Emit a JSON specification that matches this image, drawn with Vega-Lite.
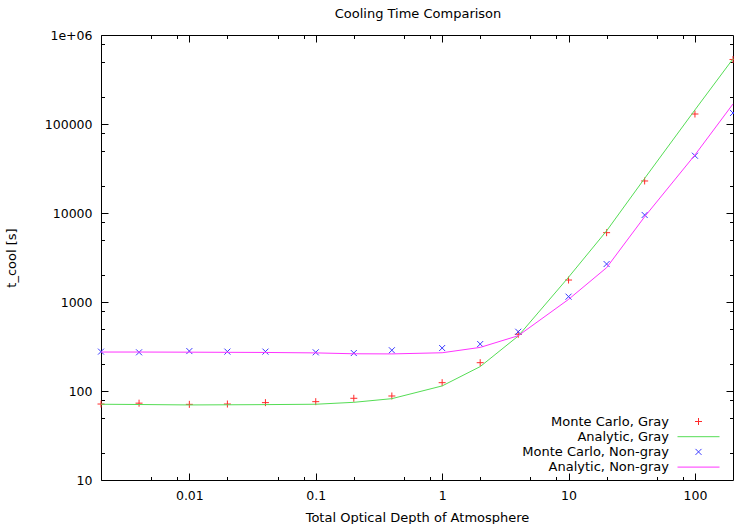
{
  "$schema": "https://vega.github.io/schema/vega-lite/v6.json",
  "width": 632,
  "height": 445,
  "autosize": {"type": "none"},
  "padding": {"left": 101, "top": 35, "right": 1, "bottom": 44},
  "title": {"text": "Cooling Time Comparison", "font": "DejaVu Sans", "fontSize": 13, "fontWeight": "normal", "color": "#000", "offset": 8, "dx": 1},
  "config": {
    "view": {"stroke": "#000", "strokeWidth": 1},
    "font": "DejaVu Sans",
    "axis": {"grid": false, "domain": false, "labelFont": "DejaVu Sans", "labelFontSize": 12.5, "labelColor": "#000", "titleFont": "DejaVu Sans", "titleFontSize": 13, "titleFontWeight": "normal", "titleColor": "#000", "tickColor": "#000", "tickWidth": 1, "labelOverlap": false, "labelFlush": false}
  },
  "data": {"values": [
    {"tau": 0.002, "t": 71.4, "series": "Monte Carlo, Gray"},
    {"tau": 0.004, "t": 73, "series": "Monte Carlo, Gray"},
    {"tau": 0.01, "t": 70.8, "series": "Monte Carlo, Gray"},
    {"tau": 0.02, "t": 71.4, "series": "Monte Carlo, Gray"},
    {"tau": 0.04, "t": 74, "series": "Monte Carlo, Gray"},
    {"tau": 0.1, "t": 75.9, "series": "Monte Carlo, Gray"},
    {"tau": 0.2, "t": 82.8, "series": "Monte Carlo, Gray"},
    {"tau": 0.4, "t": 87.9, "series": "Monte Carlo, Gray"},
    {"tau": 1, "t": 124, "series": "Monte Carlo, Gray"},
    {"tau": 2, "t": 208, "series": "Monte Carlo, Gray"},
    {"tau": 4, "t": 434, "series": "Monte Carlo, Gray"},
    {"tau": 10, "t": 1766, "series": "Monte Carlo, Gray"},
    {"tau": 20, "t": 6010, "series": "Monte Carlo, Gray"},
    {"tau": 40, "t": 22900, "series": "Monte Carlo, Gray"},
    {"tau": 100, "t": 129500, "series": "Monte Carlo, Gray"},
    {"tau": 200, "t": 530000, "series": "Monte Carlo, Gray"},
    {"tau": 0.002, "t": 71, "series": "Analytic, Gray"},
    {"tau": 0.004, "t": 70.5, "series": "Analytic, Gray"},
    {"tau": 0.01, "t": 69.7, "series": "Analytic, Gray"},
    {"tau": 0.02, "t": 70, "series": "Analytic, Gray"},
    {"tau": 0.04, "t": 70.3, "series": "Analytic, Gray"},
    {"tau": 0.1, "t": 71, "series": "Analytic, Gray"},
    {"tau": 0.2, "t": 74.6, "series": "Analytic, Gray"},
    {"tau": 0.4, "t": 82, "series": "Analytic, Gray"},
    {"tau": 1, "t": 114, "series": "Analytic, Gray"},
    {"tau": 2, "t": 188, "series": "Analytic, Gray"},
    {"tau": 4, "t": 415, "series": "Analytic, Gray"},
    {"tau": 10, "t": 1900, "series": "Analytic, Gray"},
    {"tau": 20, "t": 6300, "series": "Analytic, Gray"},
    {"tau": 40, "t": 24500, "series": "Analytic, Gray"},
    {"tau": 100, "t": 144000, "series": "Analytic, Gray"},
    {"tau": 200, "t": 540000, "series": "Analytic, Gray"},
    {"tau": 0.002, "t": 277, "series": "Monte Carlo, Non-gray"},
    {"tau": 0.004, "t": 272, "series": "Monte Carlo, Non-gray"},
    {"tau": 0.01, "t": 281, "series": "Monte Carlo, Non-gray"},
    {"tau": 0.02, "t": 277, "series": "Monte Carlo, Non-gray"},
    {"tau": 0.04, "t": 277, "series": "Monte Carlo, Non-gray"},
    {"tau": 0.1, "t": 272, "series": "Monte Carlo, Non-gray"},
    {"tau": 0.2, "t": 267, "series": "Monte Carlo, Non-gray"},
    {"tau": 0.4, "t": 287, "series": "Monte Carlo, Non-gray"},
    {"tau": 1, "t": 304, "series": "Monte Carlo, Non-gray"},
    {"tau": 2, "t": 337, "series": "Monte Carlo, Non-gray"},
    {"tau": 4, "t": 463, "series": "Monte Carlo, Non-gray"},
    {"tau": 10, "t": 1148, "series": "Monte Carlo, Non-gray"},
    {"tau": 20, "t": 2670, "series": "Monte Carlo, Non-gray"},
    {"tau": 40, "t": 9500, "series": "Monte Carlo, Non-gray"},
    {"tau": 100, "t": 44000, "series": "Monte Carlo, Non-gray"},
    {"tau": 200, "t": 133000, "series": "Monte Carlo, Non-gray"},
    {"tau": 0.002, "t": 274, "series": "Analytic, Non-gray"},
    {"tau": 0.004, "t": 274, "series": "Analytic, Non-gray"},
    {"tau": 0.01, "t": 273, "series": "Analytic, Non-gray"},
    {"tau": 0.02, "t": 272, "series": "Analytic, Non-gray"},
    {"tau": 0.04, "t": 271, "series": "Analytic, Non-gray"},
    {"tau": 0.1, "t": 268, "series": "Analytic, Non-gray"},
    {"tau": 0.2, "t": 262, "series": "Analytic, Non-gray"},
    {"tau": 0.4, "t": 261, "series": "Analytic, Non-gray"},
    {"tau": 1, "t": 269, "series": "Analytic, Non-gray"},
    {"tau": 2, "t": 309, "series": "Analytic, Non-gray"},
    {"tau": 4, "t": 418, "series": "Analytic, Non-gray"},
    {"tau": 10, "t": 1070, "series": "Analytic, Non-gray"},
    {"tau": 20, "t": 2430, "series": "Analytic, Non-gray"},
    {"tau": 40, "t": 9080, "series": "Analytic, Non-gray"},
    {"tau": 100, "t": 44900, "series": "Analytic, Non-gray"},
    {"tau": 200, "t": 168000, "series": "Analytic, Non-gray"}
  ]},
  "layer": [
    {
      "transform": [{"filter": {"field": "series", "oneOf": ["Monte Carlo, Gray", "Monte Carlo, Non-gray"]}}],
      "mark": {"type": "point", "filled": false, "strokeWidth": 1, "size": 100, "opacity": 1},
      "encoding": {
        "x": {"field": "tau", "type": "quantitative", "scale": {"type": "log", "domain": [0.002, 200], "nice": false},
          "axis": {"orient": "top", "title": null, "labels": false, "values": [0.005, 0.008, 0.01, 0.02, 0.05, 0.08, 0.1, 0.2, 0.5, 0.8, 1, 2, 5, 8, 10, 20, 50, 80, 100],
            "tickSize": {"condition": {"test": "abs(log(datum.value)/LN10 - round(log(datum.value)/LN10)) < 0.001", "value": -7}, "value": -3.5}}},
        "y": {"field": "t", "type": "quantitative", "scale": {"type": "log", "domain": [10, 1000000], "nice": false},
          "axis": {"orient": "right", "title": null, "labels": false, "values": [20, 50, 80, 100, 200, 500, 800, 1000, 2000, 5000, 8000, 10000, 20000, 50000, 80000, 100000, 200000, 500000, 800000],
            "tickSize": {"condition": {"test": "abs(log(datum.value)/LN10 - round(log(datum.value)/LN10)) < 0.001", "value": -7}, "value": -3.5}}},
        "color": {"field": "series", "type": "nominal",
          "scale": {"domain": ["Monte Carlo, Gray", "Analytic, Gray", "Monte Carlo, Non-gray", "Analytic, Non-gray"], "range": ["#ff2a2a", "#55dd55", "#3a3aff", "#ff33ff"]},
          "legend": {"title": null, "orient": "none", "legendX": 591, "legendY": 380, "labelAlign": "right", "labelOffset": -36, "symbolSize": 100, "symbolStrokeWidth": 1, "symbolOpacity": 1, "symbolFillColor": "transparent", "labelFont": "DejaVu Sans", "labelFontSize": 13, "labelColor": "#000", "rowPadding": 1.2, "padding": 0}},
        "shape": {"field": "series", "type": "nominal",
          "scale": {"domain": ["Monte Carlo, Gray", "Analytic, Gray", "Monte Carlo, Non-gray", "Analytic, Non-gray"], "range": ["M-0.7,0H0.7M0,-0.7V0.7", "M-4.2,0H4.2", "M-0.6,-0.6L0.6,0.6M-0.6,0.6L0.6,-0.6", "M-4.2,0H4.2"]},
          "legend": {"title": null, "orient": "none", "legendX": 591, "legendY": 380, "labelAlign": "right", "labelOffset": -36, "symbolSize": 100, "symbolStrokeWidth": 1, "symbolOpacity": 1, "symbolFillColor": "transparent", "labelFont": "DejaVu Sans", "labelFontSize": 13, "labelColor": "#000", "rowPadding": 1.2, "padding": 0}}
      }
    },
    {
      "transform": [{"filter": {"field": "series", "oneOf": ["Analytic, Gray", "Analytic, Non-gray"]}}],
      "mark": {"type": "line", "strokeWidth": 1},
      "encoding": {
        "x": {"field": "tau", "type": "quantitative", "scale": {"type": "log", "domain": [0.002, 200], "nice": false},
          "axis": {"orient": "bottom", "title": "Total Optical Depth of Atmosphere", "titlePadding": 6, "labelPadding": 16, "values": [0.005, 0.008, 0.01, 0.02, 0.05, 0.08, 0.1, 0.2, 0.5, 0.8, 1, 2, 5, 8, 10, 20, 50, 80, 100],
            "labelExpr": "abs(log(datum.value)/LN10 - round(log(datum.value)/LN10)) < 0.001 ? format(datum.value, '~g') : ''",
            "tickSize": {"condition": {"test": "abs(log(datum.value)/LN10 - round(log(datum.value)/LN10)) < 0.001", "value": -7}, "value": -3.5}}},
        "y": {"field": "t", "type": "quantitative", "scale": {"type": "log", "domain": [10, 1000000], "nice": false},
          "axis": {"orient": "left", "title": "t_cool [s]", "titlePadding": 26, "labelPadding": 16, "values": [10, 20, 50, 80, 100, 200, 500, 800, 1000, 2000, 5000, 8000, 10000, 20000, 50000, 80000, 100000, 200000, 500000, 800000, 1000000],
            "labelExpr": "abs(log(datum.value)/LN10 - round(log(datum.value)/LN10)) < 0.001 ? (datum.value >= 1000000 ? '1e+06' : format(datum.value, 'd')) : ''",
            "tickSize": {"condition": {"test": "abs(log(datum.value)/LN10 - round(log(datum.value)/LN10)) < 0.001", "value": -7}, "value": -3.5}}},
        "color": {"field": "series", "type": "nominal",
          "scale": {"domain": ["Monte Carlo, Gray", "Analytic, Gray", "Monte Carlo, Non-gray", "Analytic, Non-gray"], "range": ["#ff2a2a", "#55dd55", "#3a3aff", "#ff33ff"]},
          "legend": {"title": null, "orient": "none", "legendX": 591, "legendY": 380, "labelAlign": "right", "labelOffset": -36, "symbolSize": 100, "symbolStrokeWidth": 1, "symbolOpacity": 1, "symbolFillColor": "transparent", "labelFont": "DejaVu Sans", "labelFontSize": 13, "labelColor": "#000", "rowPadding": 1.2, "padding": 0}}
      }
    }
  ],
  "resolve": {"axis": {"x": "independent", "y": "independent"}}
}
